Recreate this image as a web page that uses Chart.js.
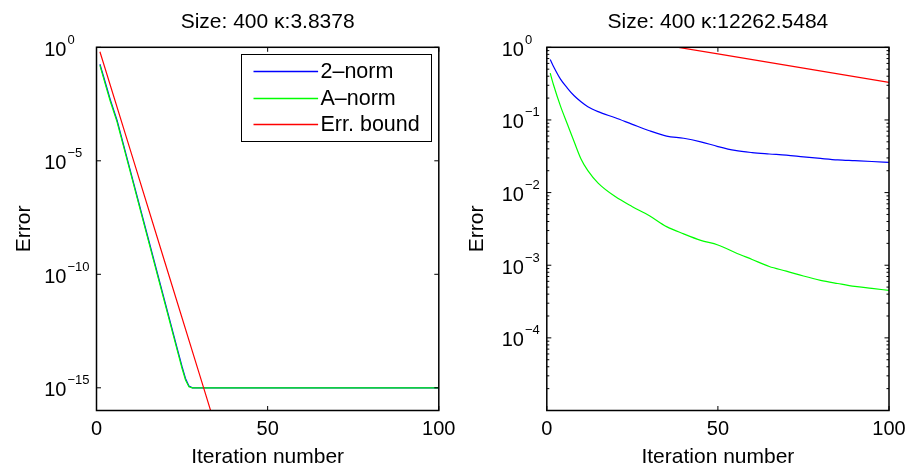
<!DOCTYPE html>
<html>
<head>
<meta charset="utf-8">
<script src="https://cdn.jsdelivr.net/npm/chart.js@4.4.1/dist/chart.umd.min.js"></script>
<style>
  html, body { margin: 0; padding: 0; background: #fff; overflow: hidden; }
  body { width: 907px; height: 463px; position: relative; }
  canvas { position: absolute; top: 0; }
  #graficoEsq { left: 0; }
  #graficoDir { left: 453px; }
</style>
</head>
<body>
<canvas id="graficoEsq" width="470" height="480"></canvas>
<canvas id="graficoDir" width="454" height="480"></canvas>
<script>
const nomesSeries = ["2\u2013norm", "A\u2013norm", "Err. bound"];
const tituloEsq = "Size: 400 \u03ba:3.8378";
const tituloDir = "Size: 400 \u03ba:12262.5484";

// kappa pequeno
const iterEsq = [1, 2, 3, 4, 6, 10, 15, 20, 24, 25, 26, 27, 28, 100];
const normaDoisEsq = [1.8e-1, 5.6e-2, 1.7e-2, 5.1e-3, 6.2e-4, 3.2e-6, 4.4e-9, 6.1e-12, 3.1e-14, 8.5e-15, 2.6e-15, 1.2e-15, 1.0e-15, 1.0e-15];
const normaAEsq = [1.6e-1, 4.7e-2, 1.4e-2, 4.3e-3, 5.2e-4, 2.7e-6, 3.7e-9, 5.1e-12, 2.6e-14, 7.1e-15, 2.2e-15, 1.1e-15, 1.0e-15, 1.0e-15];
const iterLimiteEsq = [1, 10, 20, 30, 34];
const limiteEsq = [6.4e-1, 2.6e-5, 3.3e-10, 4.3e-15, 4.7e-17];
const expoentesEsq = [0, -5, -10, -15];

// kappa grande
const iterDir = [1, 2, 4, 6, 8, 10, 12, 15, 20, 25, 30, 35, 40, 45, 50, 55, 60, 65, 70, 75, 80, 85, 90, 95, 100];
const normaDoisDir = [0.68, 0.54, 0.365, 0.275, 0.215, 0.178, 0.152, 0.13, 0.107, 0.087, 0.071, 0.060, 0.056, 0.050, 0.043, 0.038, 0.0355, 0.034, 0.0327, 0.031, 0.0295, 0.0282, 0.0275, 0.0268, 0.026];
const normaADir = [0.44, 0.30, 0.155, 0.088, 0.050, 0.029, 0.020, 0.0135, 0.0088, 0.0064, 0.0048, 0.0034, 0.0027, 0.0022, 0.0019, 0.0015, 0.0012, 0.00096, 0.00083, 0.00071, 0.00062, 0.00056, 0.00051, 0.00048, 0.00045];
const iterLimiteDir = [1, 25, 50, 75, 100];
const limiteDir = [1.96, 1.27, 0.81, 0.516, 0.329];
const expoentesDir = [0, -1, -2, -3, -4];

const ticksX = [0, 50, 100];

const fonte = '"Liberation Sans", Arial, Helvetica, sans-serif';
Chart.defaults.font.family = fonte;
Chart.defaults.color = "#000";

function pares(xs, ys) {
  return xs.map((x, i) => ({ x: x, y: ys[i] }));
}

const eixosMatlab = {
  id: "eixosMatlab",
  afterDatasetsDraw(chart, args, opts) {
    const ctx = chart.ctx;
    const { left, right, top, bottom } = chart.chartArea;
    const sx = chart.scales.x;
    const sy = chart.scales.y;

    ctx.save();
    ctx.strokeStyle = "#000";
    ctx.lineWidth = 1;
    ctx.beginPath();
    opts.expoentes.forEach(e => {
      const py = sy.getPixelForValue(Math.pow(10, e));
      ctx.moveTo(left, py); ctx.lineTo(left + 4.5, py);
      ctx.moveTo(right, py); ctx.lineTo(right - 4.5, py);
    });
    if (opts.menores) {
      const eMin = Math.round(Math.log10(sy.min));
      const eMax = Math.round(Math.log10(sy.max));
      for (let e = eMin; e < eMax; e++) {
        for (let m = 2; m <= 9; m++) {
          const py = sy.getPixelForValue(m * Math.pow(10, e));
          ctx.moveTo(left, py); ctx.lineTo(left + 2.5, py);
          ctx.moveTo(right, py); ctx.lineTo(right - 2.5, py);
        }
      }
    }
    ticksX.forEach(v => {
      const px = sx.getPixelForValue(v);
      ctx.moveTo(px, bottom); ctx.lineTo(px, bottom - 4.5);
      ctx.moveTo(px, top); ctx.lineTo(px, top + 4.5);
    });
    ctx.stroke();

    ctx.lineWidth = 1.5;
    ctx.strokeRect(left, top, right - left, bottom - top);

    // rotulos 10^n
    ctx.fillStyle = "#000";
    ctx.textAlign = "left";
    ctx.textBaseline = "alphabetic";
    const fBase = "20px " + fonte;
    const fExp = "13px " + fonte;
    const expTexto = e => (e < 0 ? "\u2212" + Math.abs(e) : String(e));
    ctx.font = fBase;
    const larguraBase = ctx.measureText("10").width;
    ctx.font = fExp;
    let maior = 0;
    opts.expoentes.forEach(e => { maior = Math.max(maior, ctx.measureText(expTexto(e)).width); });
    const x0 = left - 7 - larguraBase - 1 - maior;
    opts.expoentes.forEach(e => {
      const py = sy.getPixelForValue(Math.pow(10, e));
      ctx.font = fBase;
      ctx.fillText("10", x0, py + 8.3);
      ctx.font = fExp;
      ctx.fillText(expTexto(e), x0 + larguraBase + 1, py - 3.5);
    });

    if (opts.legenda) {
      const bx = Math.round(right - 198) + 0.5;
      const by = Math.round(top + 7) + 0.5;
      ctx.fillStyle = "#fff";
      ctx.fillRect(bx, by, 190, 87);
      ctx.lineWidth = 1;
      ctx.strokeStyle = "#000";
      ctx.strokeRect(bx, by, 190, 87);
      ctx.font = "21.5px " + fonte;
      ctx.textBaseline = "middle";
      chart.data.datasets.forEach((ds, i) => {
        const ly = Math.round(by + 16.5 + i * 26.5) + 0.5;
        ctx.strokeStyle = ds.borderColor;
        ctx.lineWidth = 1.3;
        ctx.beginPath();
        ctx.moveTo(bx + 12, ly);
        ctx.lineTo(bx + 76.6, ly);
        ctx.stroke();
        ctx.fillStyle = "#000";
        ctx.fillText(ds.label, bx + 79, ly + 1);
      });
    }
    ctx.restore();
  }
};

function criarGrafico(id, titulo, datasets, yMin, esquerda, direita, expoentes, menores, legenda) {
  const alturaCanvas = 480;
  const baseGrafico = 410.5;
  return new Chart(document.getElementById(id), {
    type: "line",
    data: { datasets: datasets },
    plugins: [eixosMatlab],
    options: {
      responsive: false,
      animation: false,
      layout: { padding: { left: 0, right: direita, top: 0, bottom: 0 } },
      elements: { point: { radius: 0 }, line: { borderWidth: 1.2 } },
      plugins: {
        legend: { display: false },
        tooltip: { enabled: false },
        title: {
          display: true,
          text: titulo,
          fullSize: false,
          color: "#000",
          font: { size: 21, weight: "normal" },
          padding: { top: 9.4, bottom: 12.7 }
        },
        eixosMatlab: { expoentes: expoentes, menores: menores, legenda: legenda }
      },
      scales: {
        x: {
          type: "linear",
          min: 0,
          max: 100,
          grid: { display: false, drawTicks: false },
          border: { display: false },
          ticks: { stepSize: 50, color: "#000", font: { size: 20 }, padding: 7, maxRotation: 0 },
          title: { display: true, text: "Iteration number", color: "#000", font: { size: 21 }, padding: { top: 0, bottom: 10.4 } },
          afterFit: function (s) {
            s.height = alturaCanvas - baseGrafico;
            s.paddingLeft = 0;
            s.paddingRight = 0;
          }
        },
        y: {
          type: "logarithmic",
          min: yMin,
          max: 1,
          grid: { display: false, drawTicks: false },
          border: { display: false },
          ticks: { display: false },
          title: { display: true, text: "Error", color: "#000", font: { size: 21 }, padding: { top: 11.4, bottom: 0 } },
          afterFit: function (s) {
            s.width = esquerda;
            s.paddingTop = 0;
            s.paddingBottom = 0;
          }
        }
      }
    }
  });
}

document.addEventListener("DOMContentLoaded", function () {
  criarGrafico("graficoEsq", tituloEsq, [
    { label: nomesSeries[0], data: pares(iterEsq, normaDoisEsq), borderColor: "#0000ff", order: 2 },
    { label: nomesSeries[1], data: pares(iterEsq, normaAEsq), borderColor: "#00ff00", order: 1 },
    { label: nomesSeries[2], data: pares(iterLimiteEsq, limiteEsq), borderColor: "#ff0000", order: 0 }
  ], 1e-16, 96.5, 470 - 438.8, expoentesEsq, false, true);

  criarGrafico("graficoDir", tituloDir, [
    { label: nomesSeries[0], data: pares(iterDir, normaDoisDir), borderColor: "#0000ff", cubicInterpolationMode: "monotone", order: 2 },
    { label: nomesSeries[1], data: pares(iterDir, normaADir), borderColor: "#00ff00", cubicInterpolationMode: "monotone", order: 1 },
    { label: nomesSeries[2], data: pares(iterLimiteDir, limiteDir), borderColor: "#ff0000", order: 0 }
  ], 1e-5, 546.8 - 453, 18, expoentesDir, true, false);
});
</script>
</body>
</html>
